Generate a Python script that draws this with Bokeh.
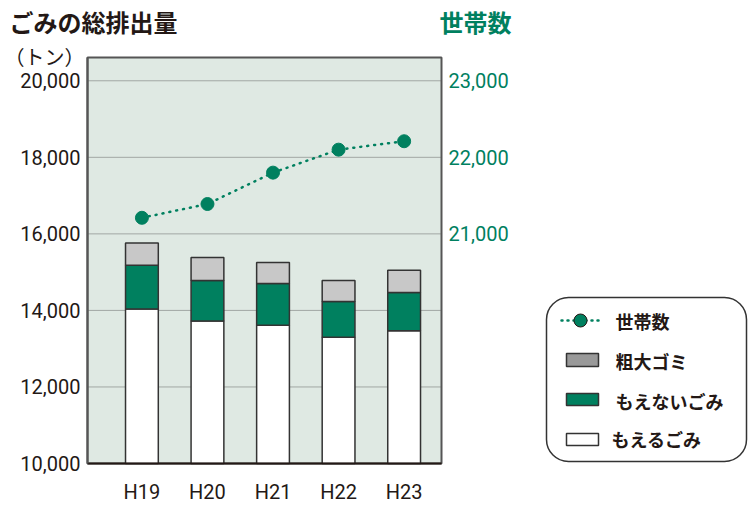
from bokeh.plotting import figure
from bokeh.models import (Range1d, LinearAxis, FixedTicker, NumeralTickFormatter,
                          BoxAnnotation, ColumnDataSource)
from bokeh.embed import file_html
from bokeh.resources import INLINE
from bokeh.core.properties import value

# ---- data ----
years = ["H19", "H20", "H21", "H22", "H23"]
moeru = [14040, 13720, 13610, 13300, 13470]      # もえるごみ
moenai = [1140, 1060, 1090, 930, 1000]           # もえないごみ
sodai = [580, 600, 550, 550, 580]                # 粗大ゴミ
households = [21210, 21390, 21800, 22100, 22210] # 世帯数
left_ticks = [10000, 12000, 14000, 16000, 18000, 20000]
grid_ticks = [12000, 14000, 16000, 18000, 20000]
right_ticks = [21000, 22000, 23000]
legend_labels = ["世帯数", "粗大ゴミ", "もえないごみ", "もえるごみ"]

TXT = "#231815"
GREEN = "#00805f"
BG = "#dfe9e3"
FONT = "Roboto"
JP = "Noto Sans CJK JP"

# ---- layout geometry (page pixels) ----
W_PAGE, H_PAGE = 752, 505
FL, FR, FT, FB = 87, 441, 57, 463          # chart box in page pixels
XC0, XC1 = -0.83, 4.57                     # category axis range inside chart box
YT0, YT1 = 10000, 20608                    # tons range inside chart box
YH0, YH1 = 18000, 23304                    # households range inside chart box

def extend(v0, v1, p0, p1, total, flip=False):
    # range over [0,total] page pixels so that [p0,p1] maps to [v0,v1]
    k = (v1 - v0) / (p1 - p0)
    if flip:   # page y grows downward, data grows upward
        return Range1d(v0 - (total - p1) * k, v1 + p0 * k)
    return Range1d(v0 - p0 * k, v1 + (total - p1) * k)

p = figure(width=W_PAGE, height=H_PAGE, min_border=0,
           x_range=Range1d(0, W_PAGE), y_range=Range1d(0, H_PAGE),
           x_axis_location=None, y_axis_location=None,
           output_backend="svg", toolbar_location=None,
           background_fill_color="white", border_fill_color="white")
p.outline_line_color = None
p.grid.visible = False
p.extra_x_ranges = {"cat": extend(XC0, XC1, FL, FR, W_PAGE)}
p.extra_y_ranges = {"tons": extend(YT0, YT1, FT, FB, H_PAGE, flip=True),
                    "hh": extend(YH0, YH1, FT, FB, H_PAGE, flip=True)}

def PY(py):
    return H_PAGE - py

# chart background
p.quad(left=[XC0], right=[XC1], bottom=[YT0], top=[YT1], x_range_name="cat",
       y_range_name="tons", fill_color=BG, line_color="#555555", line_width=2)

# dotted grid lines
p.segment(x0=[XC0] * len(grid_ticks), x1=[XC1] * len(grid_ticks), y0=grid_ticks,
          y1=grid_ticks, x_range_name="cat", y_range_name="tons",
          line_color="#666666", line_dash="1 1", line_width=1)

xs = list(range(len(years)))
base = [YT0] * len(years)
top1 = moeru
top2 = [a + b for a, b in zip(moeru, moenai)]
top3 = [a + b + c for a, b, c in zip(moeru, moenai, sodai)]
src = ColumnDataSource(dict(x=xs, base=base, t1=top1, t2=top2, t3=top3, hh=households))

BW = 0.5
for b, t, c in [("base", "t1", "white"), ("t1", "t2", GREEN), ("t2", "t3", "#c8c8c8")]:
    p.vbar(x="x", bottom=b, top=t, width=BW, source=src, fill_color=c,
           line_color="#333333", line_width=1.5, x_range_name="cat", y_range_name="tons")

p.line(x="x", y="hh", source=src, x_range_name="cat", y_range_name="hh",
       line_color=GREEN, line_width=2.5, line_dash="1 6", line_cap="round")
p.scatter(x="x", y="hh", source=src, x_range_name="cat", y_range_name="hh",
          size=13, fill_color=GREEN, line_color=GREEN)

def style_axis(ax, color, standoff):
    ax.major_tick_line_color = None
    ax.minor_tick_line_color = None
    ax.major_tick_out = 0
    ax.major_tick_in = 0
    ax.minor_tick_out = 0
    ax.minor_tick_in = 0
    ax.major_label_text_font = FONT
    ax.major_label_text_font_size = "20px"
    ax.major_label_text_color = color
    ax.major_label_standoff = standoff

# ---- axes at fixed locations ----
la = LinearAxis(x_range_name="cat", y_range_name="tons", fixed_location=XC0,
                bounds=(YT0, YT1), ticker=FixedTicker(ticks=left_ticks),
                formatter=NumeralTickFormatter(format="0,0"))
style_axis(la, TXT, 7)
la.axis_line_color = "#555555"
la.axis_line_width = 2
p.add_layout(la, "left")

ra = LinearAxis(x_range_name="cat", y_range_name="hh", fixed_location=XC1,
                bounds=(YH0, YH1), ticker=FixedTicker(ticks=right_ticks),
                formatter=NumeralTickFormatter(format="0,0"))
style_axis(ra, GREEN, 7)
ra.axis_line_color = None
p.add_layout(ra, "right")

ba = LinearAxis(x_range_name="cat", y_range_name="tons", fixed_location=YT0,
                bounds=(XC0, XC1), ticker=FixedTicker(ticks=xs))
ba.major_label_overrides = {i: y for i, y in enumerate(years)}
style_axis(ba, TXT, 16)
ba.axis_line_color = TXT
ba.axis_line_width = 2
p.add_layout(ba, "below")

# ---- titles ----
p.text(x=[9], y=[PY(21)], text=["ごみの総排出量"], text_font=value(JP),
       text_font_size="24px", text_font_style="bold", text_color=TXT,
       text_baseline="middle", text_align="left")
p.text(x=[4], y=[PY(56)], text=["（トン）"], text_font=value(JP),
       text_font_size="20px", text_color=TXT,
       text_baseline="middle", text_align="left")
p.text(x=[439], y=[PY(21)], text=["世帯数"], text_font=value(JP),
       text_font_size="24px", text_font_style="bold", text_color=GREEN,
       text_baseline="middle", text_align="left")

# ---- legend ----
p.add_layout(BoxAnnotation(left=546, right=746, top=PY(297), bottom=PY(461),
                           fill_color=None, line_color="#333333", line_alpha=1,
                           line_width=1.5, border_radius=22))
p.line(x=[561, 601], y=[PY(320), PY(320)], line_color=GREEN, line_width=2.5,
       line_dash="1 5", line_cap="round")
p.scatter(x=[580], y=[PY(320)], size=13, fill_color=GREEN, line_color=TXT, line_width=1)
p.quad(left=[566, 566, 566], right=[598, 598, 598],
       top=[PY(353), PY(393), PY(433)], bottom=[PY(366), PY(405), PY(445)],
       fill_color=["#999999", GREEN, "white"], line_color="#333333", line_width=1.5)
p.text(x=[615, 615, 615, 611], y=[PY(320), PY(360), PY(400), PY(438)],
       text=legend_labels, text_font=value(JP), text_font_size="18px",
       text_font_style="bold", text_color=TXT, text_baseline="middle",
       text_align="left")

open("out.html", "w").write(file_html(p, INLINE))
